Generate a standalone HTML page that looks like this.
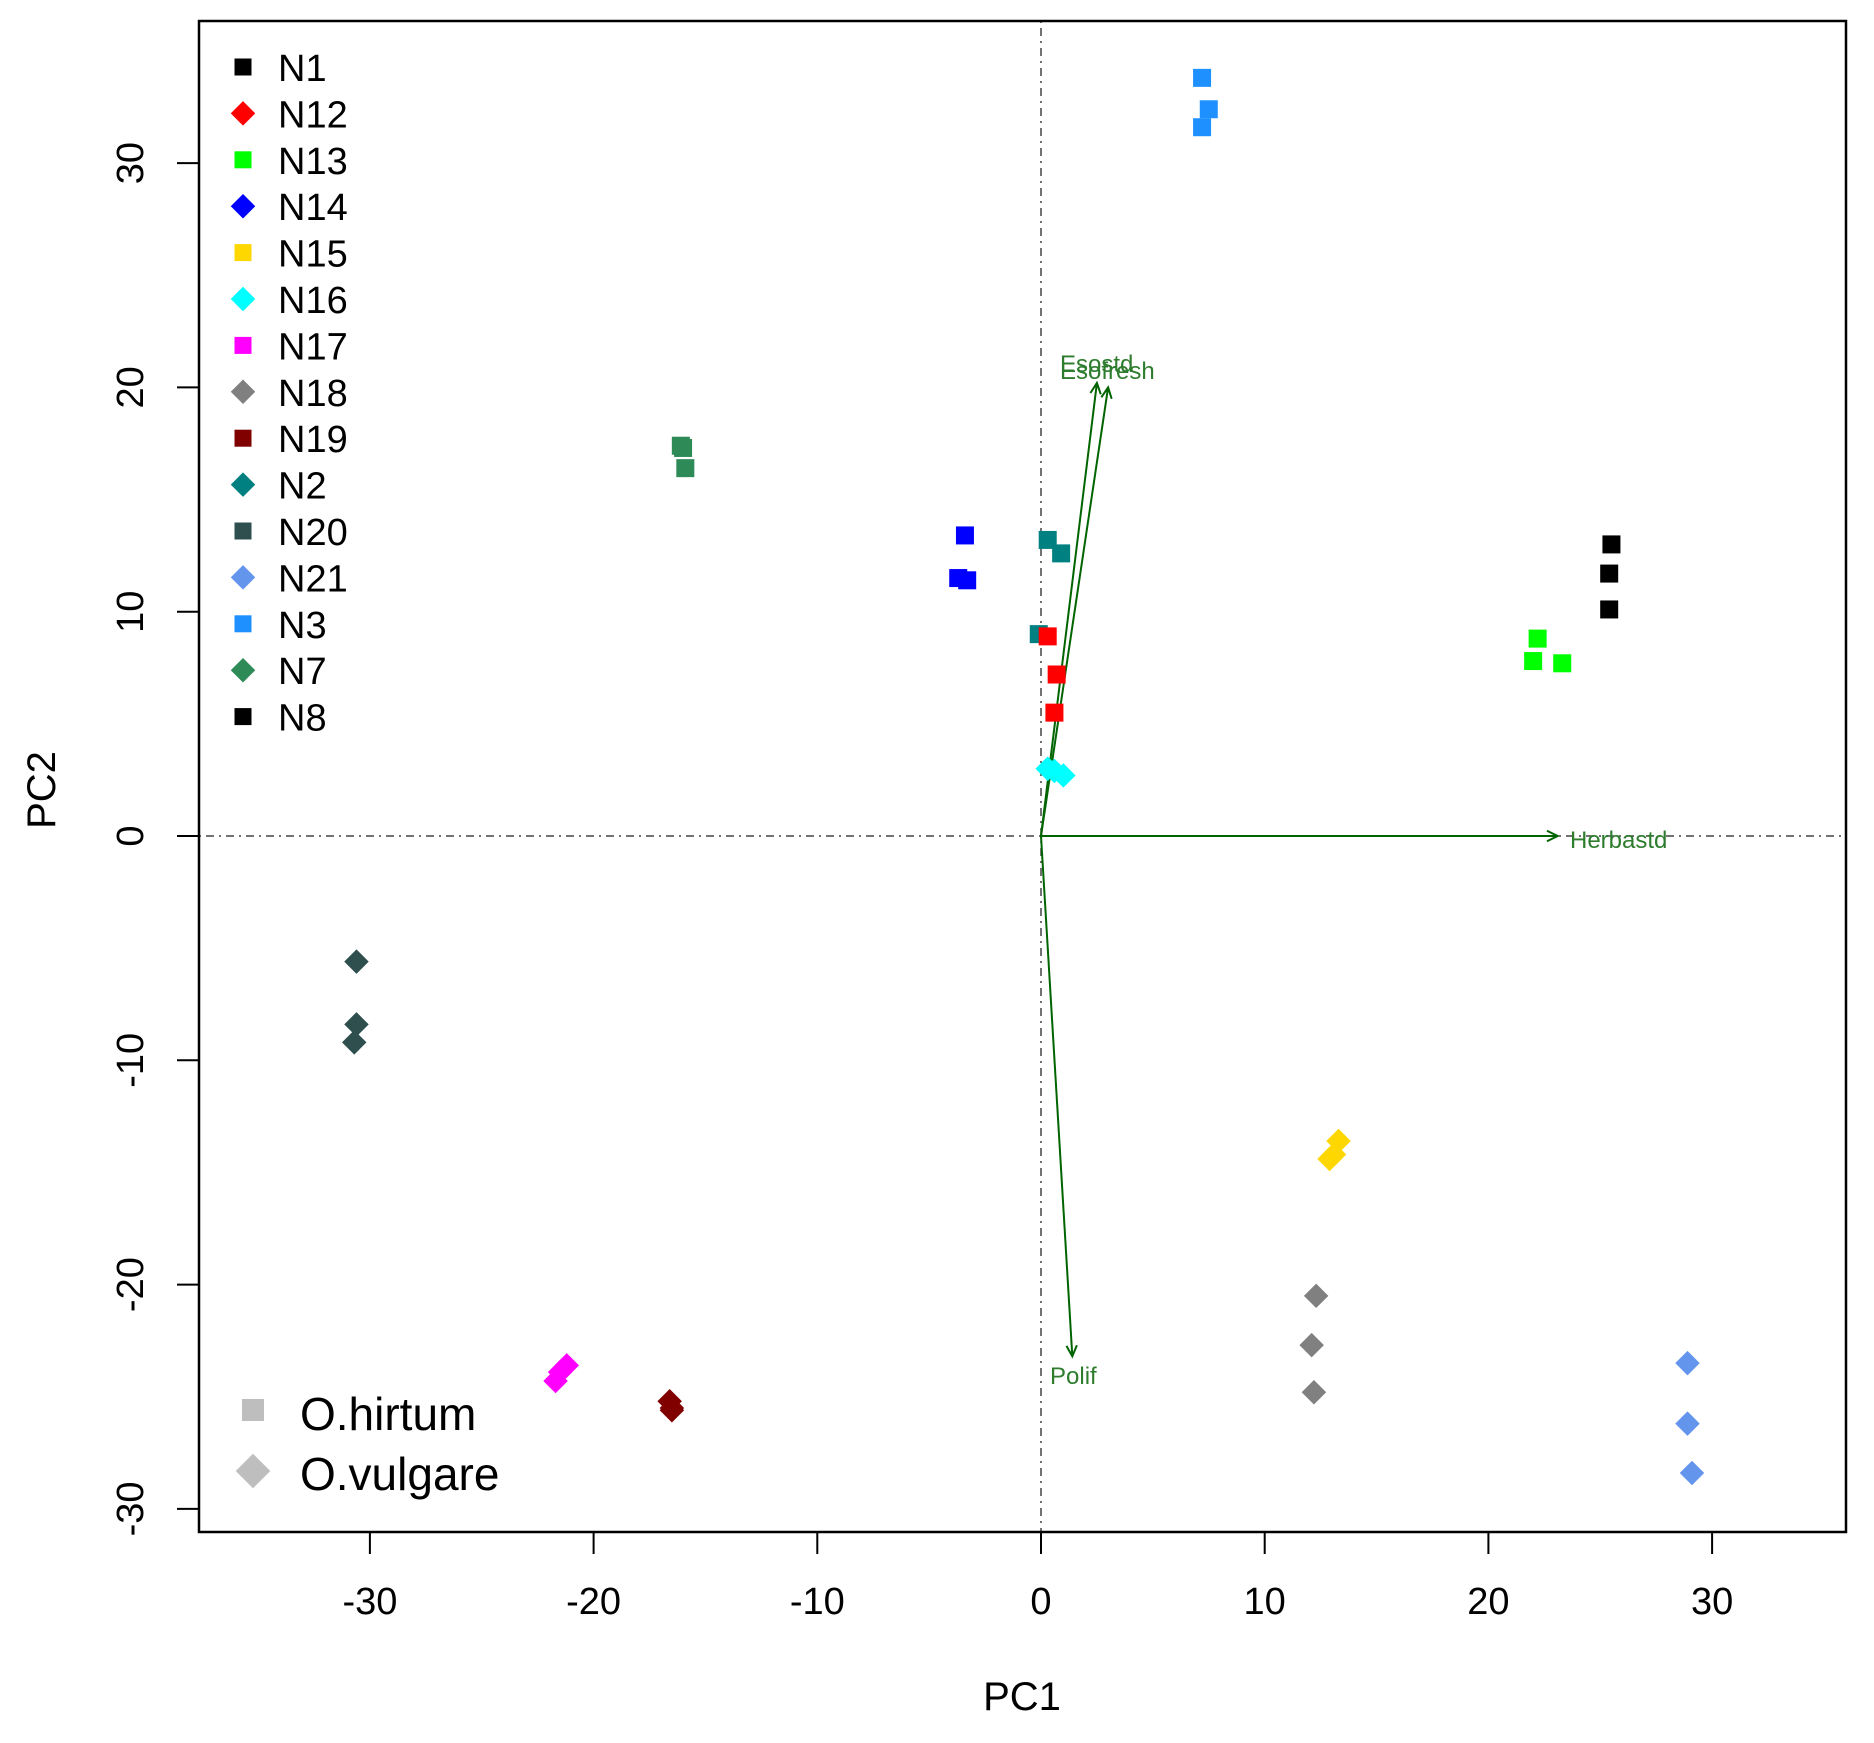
<!DOCTYPE html>
<html><head><meta charset="utf-8"><style>
html,body{margin:0;padding:0;background:#fff;}
svg{display:block;font-family:"Liberation Sans",Arial,sans-serif;}
</style></head><body>
<svg id="chart" width="1874" height="1743" viewBox="0 0 1874 1743" xmlns="http://www.w3.org/2000/svg">
<rect x="0" y="0" width="1874" height="1743" fill="#fff"/>
<g id="plot"></g>
</svg>
<script>
const xTicks = [-30,-20,-10,0,10,20,30];
const yTicks = [-30,-20,-10,0,10,20,30];
const groups = ["N3","N7","N14","N2","N12","N16","N1","N13","N20","N15","N18","N21","N17","N19"];
const groupColors = ["#1E90FF","#2E8B57","#0000FF","#008080","#FF0000","#00FFFF","#000000","#00FF00","#2F4F4F","#FFD700","#808080","#6495ED","#FF00FF","#800000"];
const groupShapes = ["sq","sq","sq","sq","sq","dia","sq","sq","dia","dia","dia","dia","dia","dia"];
const pc1Values = [
 [7.2,7.5,7.2],[-16.1,-16.0,-15.9],[-3.4,-3.7,-3.3],[0.3,0.9,-0.1],[0.3,0.7,0.6],[0.3,1.0,0.6],
 [25.5,25.4,25.4],[22.2,22.0,23.3],[-30.6,-30.6,-30.7],[13.3,13.1,12.9],[12.3,12.1,12.2],
 [28.9,28.9,29.1],[-21.2,-21.5,-21.7],[-16.6,-16.5,-16.5]];
const pc2Values = [
 [33.8,32.4,31.6],[17.4,17.3,16.4],[13.4,11.5,11.4],[13.2,12.6,9.0],[8.9,7.2,5.5],[3.0,2.7,2.9],
 [13.0,11.7,10.1],[8.8,7.8,7.7],[-5.6,-8.4,-9.2],[-13.6,-14.2,-14.4],[-20.5,-22.7,-24.8],
 [-23.5,-26.2,-28.4],[-23.6,-23.9,-24.3],[-25.2,-25.5,-25.6]];
const legendLabels = ["N1","N12","N13","N14","N15","N16","N17","N18","N19","N2","N20","N21","N3","N7","N8"];
const legendColors = ["#000000","#FF0000","#00FF00","#0000FF","#FFD700","#00FFFF","#FF00FF","#808080","#800000","#008080","#2F4F4F","#6495ED","#1E90FF","#2E8B57","#000000"];
const legendShapes = ["sq","dia","sq","dia","sq","dia","sq","dia","sq","dia","sq","dia","sq","dia","sq"];
const arrowNames = ["Esostd","Esofresh","Herbastd","Polif"];
const arrowX = [2.5,3.0,23.1,1.4];
const arrowY = [20.2,20.0,0,-23.2];

const NS="http://www.w3.org/2000/svg";
const g=document.getElementById('plot');
const L=199,R=1846,T=21,B=1532;
const X=v=>1041+v*22.37;
const Y=v=>836-v*22.43;
function el(tag,attrs,parent){const e=document.createElementNS(NS,tag);for(const k in attrs)e.setAttribute(k,attrs[k]);(parent||g).appendChild(e);return e;}
function marker(shape,cx,cy,col,s){
  if(shape==="sq") return el('rect',{x:cx-s/2,y:cy-s/2,width:s,height:s,fill:col});
  const d=s*0.72;
  return el('polygon',{points:`${cx},${cy-d} ${cx+d},${cy} ${cx},${cy+d} ${cx-d},${cy}`,fill:col});
}
let e=el('line',{x1:X(0),y1:T,x2:X(0),y2:B,stroke:'#444','stroke-width':1.5,'stroke-dasharray':'2,5,8,5'});

e=el('line',{x1:L,y1:Y(0),x2:R,y2:Y(0),stroke:'#444','stroke-width':1.5,'stroke-dasharray':'2,5,8,5'});

e=el('rect',{x:L,y:T,width:R-L,height:B-T,fill:'none',stroke:'#000','stroke-width':2.5});

xTicks.forEach(t=>{
  let l=el('line',{x1:X(t),y1:B,x2:X(t),y2:B+22,stroke:'#000','stroke-width':2});
  
  let tx=el('text',{x:X(t),y:1614,'font-size':38,'text-anchor':'middle',fill:'#000'});
  tx.textContent=t;
  
});
yTicks.forEach(t=>{
  let l=el('line',{x1:L-22,y1:Y(t),x2:L,y2:Y(t),stroke:'#000','stroke-width':2});
  
  let tx=el('text',{x:143,y:Y(t),'font-size':38,'text-anchor':'middle',fill:'#000',transform:`rotate(-90 143 ${Y(t)})`});
  tx.textContent=t;
  
});
e=el('text',{x:1022,y:1710,'font-size':40,'text-anchor':'middle'});e.textContent='PC1';

e=el('text',{x:55,y:790,'font-size':40,'text-anchor':'middle',transform:'rotate(-90 55 790)'});e.textContent='PC2';

arrowNames.forEach((n,i)=>{
  const x2=X(arrowX[i]),y2=Y(arrowY[i]),x1=X(0),y1=Y(0);
  let l=el('line',{x1,y1,x2,y2,stroke:'#006400','stroke-width':2});
  
  const a=Math.atan2(y2-y1,x2-x1),h=12;
  let p=el('polyline',{points:`${x2-h*Math.cos(a-0.45)},${y2-h*Math.sin(a-0.45)} ${x2},${y2} ${x2-h*Math.cos(a+0.45)},${y2-h*Math.sin(a+0.45)}`,fill:'none',stroke:'#006400','stroke-width':2});
  
});
[["Esostd",1060,372],["Esofresh",1060,379],["Herbastd",1570,848],["Polif",1050,1384]].forEach(a=>{
  let t=el('text',{x:a[1],y:a[2],'font-size':24,fill:'#2E7D2E'});t.textContent=a[0];
  
});
groups.forEach((gName,i)=>{
  pc1Values[i].forEach((v,j)=>{
    const m=marker(groupShapes[i],X(v),Y(pc2Values[i][j]),groupColors[i],groupShapes[i]==="sq"?18:17);
    
    
  });
});
legendLabels.forEach((lab,i)=>{
  const y=67+i*46.4;
  const m=marker(legendShapes[i],243,y,legendColors[i],legendShapes[i]==="sq"?17:17);
  
  let t=el('text',{x:278,y:y+14,'font-size':38,fill:'#000'});t.textContent=lab;
  
});
e=marker("sq",253,1410,'#BEBEBE',22);
e=el('text',{x:300,y:1430,'font-size':46});e.textContent='O.hirtum';

e=marker("dia",253,1471,'#BEBEBE',24);
e=el('text',{x:300,y:1490,'font-size':46});e.textContent='O.vulgare';

</script>
</body></html>
